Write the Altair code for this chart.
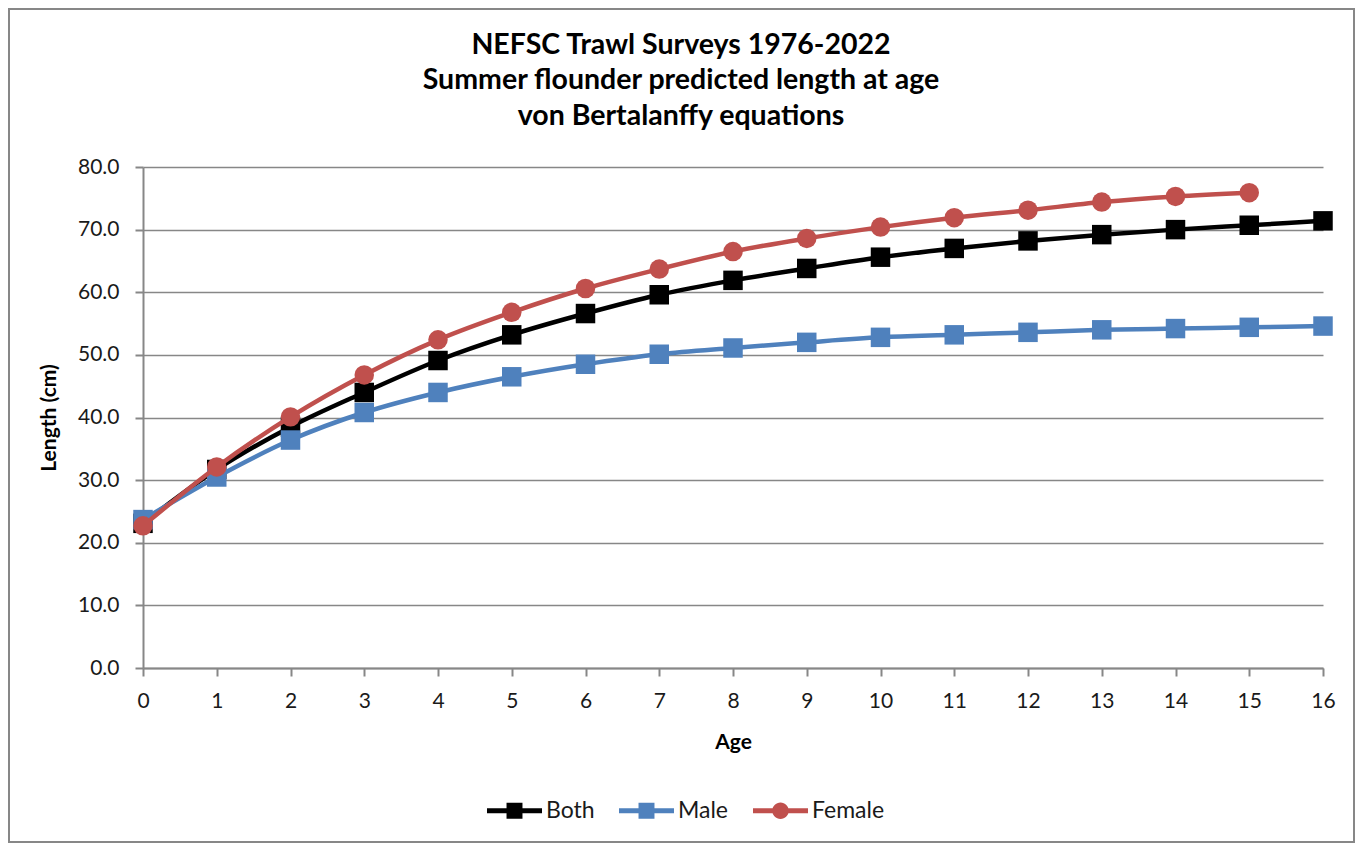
import altair as alt
import pandas as pd

ages = list(range(17))
both = [23.1, 31.7, 38.5, 44.0, 49.1, 53.2, 56.6, 59.6, 61.9, 63.8, 65.6, 67.0, 68.2, 69.2, 70.0, 70.7, 71.4]
male = [23.7, 30.5, 36.4, 40.8, 44.0, 46.5, 48.5, 50.1, 51.1, 52.0, 52.8, 53.2, 53.6, 54.0, 54.2, 54.4, 54.6]
female = [22.7, 32.1, 40.1, 46.8, 52.4, 56.8, 60.6, 63.7, 66.5, 68.6, 70.4, 71.9, 73.1, 74.4, 75.3, 75.9]
series = ["Both", "Male", "Female"]
colors = ["#000000", "#4F81BD", "#C0504D"]
marker_shapes = ["square", "square", "circle"]
y_ticks = [0, 10, 20, 30, 40, 50, 60, 70, 80]

rows = []
for name, vals in zip(series, [both, male, female]):
    for a, v in zip(ages, vals):
        rows.append({"Age": a, "Length": v, "Series": name})
df = pd.DataFrame(rows)

FONT = "Lato"
GRAY = "#878787"
W, H = 1180, 501
PAD = {"left": 135, "top": 159, "right": 32, "bottom": 175}

x_enc = alt.X("Age:Q", scale=alt.Scale(domain=[0, 16], nice=False, zero=True),
              axis=alt.Axis(values=ages, title="Age", grid=False, labelFlush=False),
              title="Age")
y_enc = alt.Y("Length:Q", scale=alt.Scale(domain=[0, 80], nice=False),
              axis=alt.Axis(values=y_ticks, format=".1f", title="Length (cm)", grid=True,
                            labelFlush=False),
              title="Length (cm)")

layers = []
for name, col, shp in zip(series, colors, marker_shapes):
    sub = alt.Chart(df).transform_filter(alt.datum.Series == name)
    line = sub.mark_line(strokeWidth=4.5, interpolate="monotone", color=col).encode(
        x=x_enc, y=y_enc)
    pts = sub.mark_point(shape=shp, filled=True, size=380, opacity=1, color=col).encode(
        x=x_enc, y=y_enc)
    layers += [line, pts]

# legend symbols: line segment with marker, in a -1..1 box
legend_paths = [
    "M-1,-0.09H1V0.09H-1Z M-0.29,-0.29H0.29V0.29H-0.29Z",
    "M-1,-0.09H1V0.09H-1Z M-0.29,-0.29H0.29V0.29H-0.29Z",
    "M-1,-0.09H1V0.09H-1Z M0.3,0A0.3,0.3 0 1,1 -0.3,0A0.3,0.3 0 1,1 0.3,0Z",
]
leg = alt.Legend(title=None, orient="none", legendX=344, legendY=616,
                 direction="horizontal", symbolSize=3025,
                 symbolOpacity=1, symbolStrokeWidth=0,
                 columnPadding=24, labelOffset=4,
                 labelFont=FONT, labelFontSize=23, labelColor="#1a1a1a")
legend_layer = alt.Chart(df).mark_point(filled=True, opacity=0).encode(
    x=x_enc, y=y_enc,
    color=alt.Color("Series:N", scale=alt.Scale(domain=series, range=colors), legend=leg),
    shape=alt.Shape("Series:N", scale=alt.Scale(domain=series, range=legend_paths), legend=leg),
)

border = alt.Chart(pd.DataFrame({"k": [0]})).mark_rect(
    filled=False, stroke=GRAY, strokeWidth=2).encode(
    x=alt.value(-PAD["left"] + 1), x2=alt.value(W + PAD["right"] - 1),
    y=alt.value(-PAD["top"] + 1), y2=alt.value(H + PAD["bottom"] - 1))

chart = alt.layer(border, *layers, legend_layer).properties(
    width=W, height=H,
    autosize=alt.AutoSizeParams(type="none"),
    padding=PAD,
    title=alt.Title(
        text=["NEFSC Trawl Surveys 1976-2022",
              "Summer flounder predicted length at age",
              "von Bertalanffy equations"],
        anchor="middle", frame="group", dx=-52, offset=-122,
        font=FONT, fontSize=28.5, fontWeight="bold", lineHeight=35.5, color="#000000"),
).configure_view(stroke=None).configure_axis(
    labelFont=FONT, labelFontSize=21, labelColor="#1a1a1a",
    titleFont=FONT, titleFontSize=21, titleFontWeight="bold", titleColor="#000000",
    domainColor=GRAY, domainWidth=2, tickColor=GRAY, tickWidth=2, tickSize=8,
    gridColor=GRAY, gridWidth=1.6,
).configure_axisY(labelPadding=16, titlePadding=18).configure_axisX(
    labelPadding=14, titlePadding=20)

chart.save("out.html", embed_options={"renderer": "svg", "actions": False})
